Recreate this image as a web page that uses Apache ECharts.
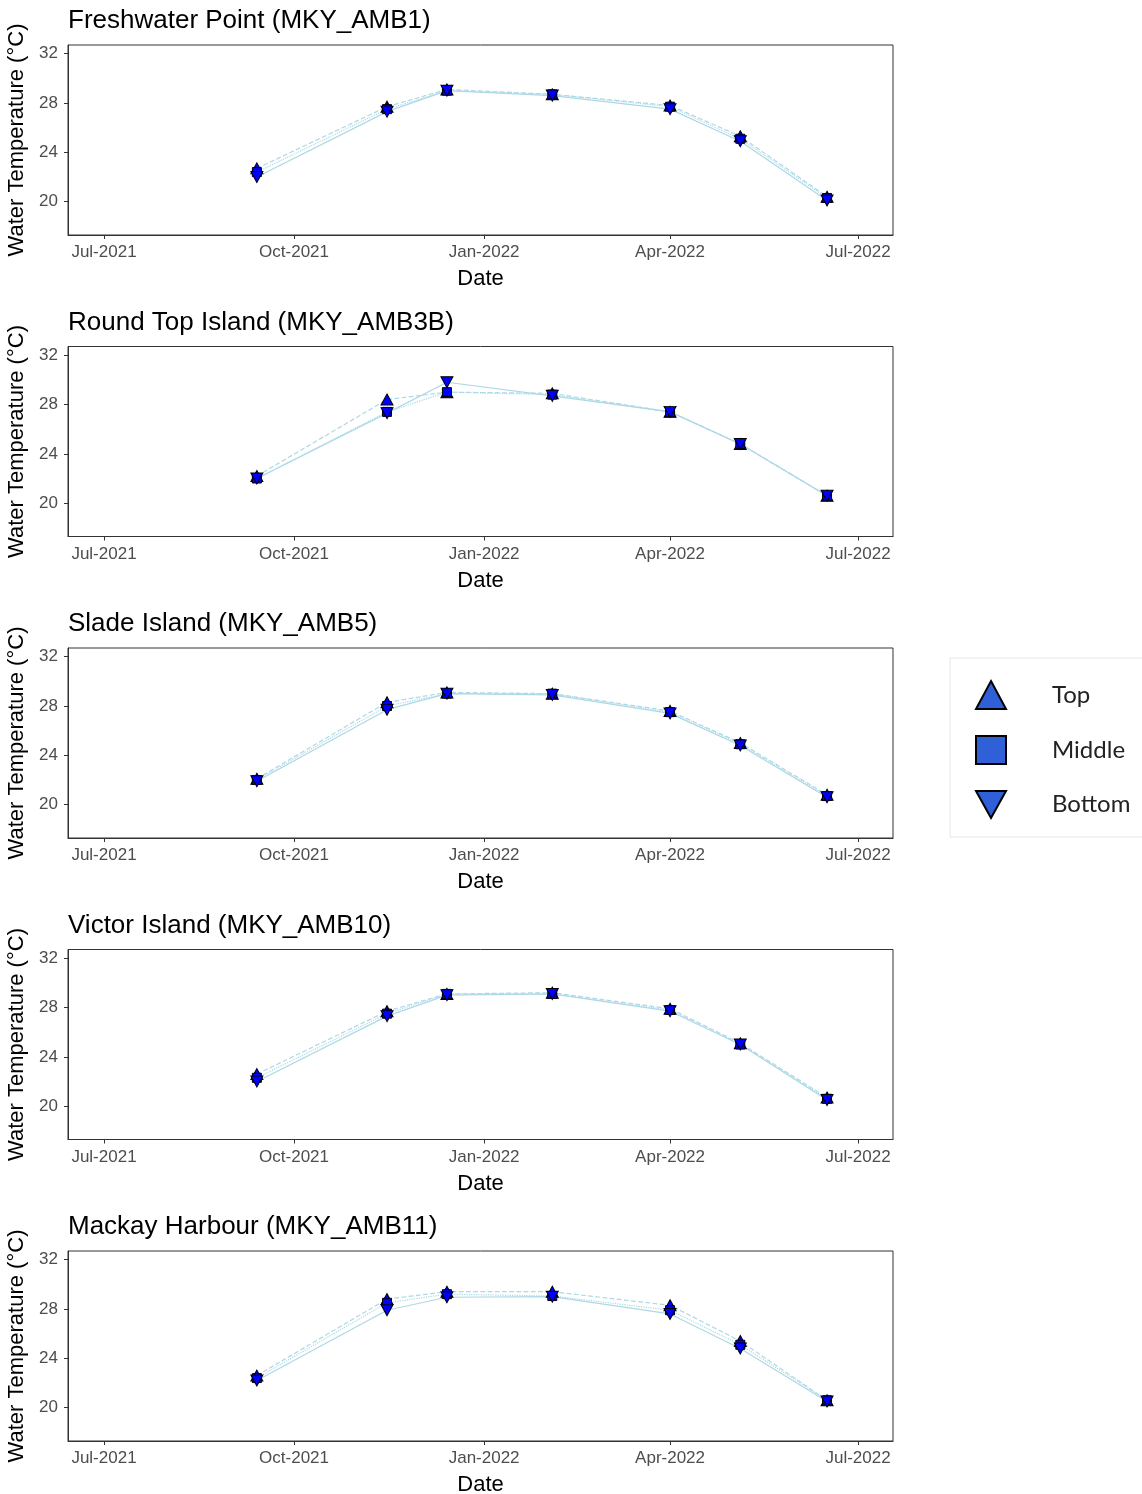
<!DOCTYPE html>
<html>
<head>
<meta charset="utf-8">
<script src="https://cdn.jsdelivr.net/npm/echarts@6/dist/echarts.min.js"></script>
<style>
html,body{margin:0;padding:0;background:#fff;}
#c{width:1142px;height:1494px;}
</style>
</head>
<body>
<div id="c"></div>
<script>
// ---- data ----
const sampleDates = ['2021-09-13','2021-11-15','2021-12-14','2022-02-03','2022-04-01','2022-05-05','2022-06-16'];
const siteTitles = ['Freshwater Point (MKY_AMB1)','Round Top Island (MKY_AMB3B)','Slade Island (MKY_AMB5)','Victor Island (MKY_AMB10)','Mackay Harbour (MKY_AMB11)'];
const depthNames = ['Top','Middle','Bottom'];
const yTicks = [20, 24, 28, 32];
const xTickDates = ['2021-07-01','2021-10-01','2022-01-01','2022-04-01','2022-07-01'];

const amb1Top    = [22.7, 27.7, 29.1, 28.7, 27.8, 25.3, 20.4];
const amb1Middle = [22.4, 27.5, 29.0, 28.7, 27.7, 25.1, 20.3];
const amb1Bottom = [22.0, 27.3, 29.0, 28.6, 27.5, 24.9, 20.1];

const amb3bTop    = [22.2, 28.4, 29.0, 28.9, 27.4, 24.8, 20.6];
const amb3bMiddle = [22.0, 27.4, 29.0, 28.8, 27.4, 24.8, 20.6];
const amb3bBottom = [22.0, 27.3, 29.8, 28.7, 27.4, 24.8, 20.6];

const amb5Top    = [22.1, 28.3, 29.1, 29.0, 27.6, 25.0, 20.8];
const amb5Middle = [22.0, 28.0, 29.0, 29.0, 27.5, 24.9, 20.7];
const amb5Bottom = [21.9, 27.7, 29.0, 28.9, 27.4, 24.8, 20.6];

const amb10Top    = [22.6, 27.7, 29.1, 29.2, 27.9, 25.1, 20.7];
const amb10Middle = [22.3, 27.5, 29.1, 29.1, 27.8, 25.0, 20.6];
const amb10Bottom = [22.0, 27.3, 29.0, 29.1, 27.7, 25.0, 20.5];

const amb11Top    = [22.6, 28.8, 29.4, 29.4, 28.3, 25.4, 20.6];
const amb11Middle = [22.4, 28.5, 29.2, 29.05, 27.9, 25.1, 20.6];
const amb11Bottom = [22.2, 27.9, 28.95, 29.0, 27.6, 24.8, 20.5];

const panels = [
  [amb1Top, amb1Middle, amb1Bottom],
  [amb3bTop, amb3bMiddle, amb3bBottom],
  [amb5Top, amb5Middle, amb5Bottom],
  [amb10Top, amb10Middle, amb10Bottom],
  [amb11Top, amb11Middle, amb11Bottom]
];

// ---- helpers ----
function ts(s){ const p = s.split('-').map(Number); return Date.UTC(p[0], p[1]-1, p[2]); }
const MONTHS = ['Jan','Feb','Mar','Apr','May','Jun','Jul','Aug','Sep','Oct','Nov','Dec'];
function fmtDate(v){ const d = new Date(v); return MONTHS[d.getUTCMonth()] + '-' + d.getUTCFullYear(); }

const xMin = Date.UTC(2021, 5, 13, 14);
const xMax = Date.UTC(2022, 6, 17, 22);
const xTicks = xTickDates.map(ts);

const lineTypes = ['dashed', 'dotted', 'solid'];
const symbols = ['triangle', 'rect', 'triangle'];
const symbolRot = [0, 0, 180];
const symbolSizes = [[12, 11], 9, [12, 11]];

const PANEL_STEP = 301.5;
const GRID_TOP = 45;
const GRID_H = 190;

const grids = [], xAxes = [], yAxes = [], series = [], titles = [];
panels.forEach((panel, i) => {
  const top = GRID_TOP + PANEL_STEP * i;
  grids.push({ left: 68, width: 825, top: top, height: GRID_H, show: true, borderColor: '#333', borderWidth: 1,
    backgroundColor: '#fff', containLabel: false, outerBoundsMode: 'none' });
  titles.push({ text: siteTitles[i], left: 63, top: top - 42,
    textStyle: { fontFamily: 'Liberation Sans', fontSize: 26, fontWeight: 'normal', color: '#000' } });
  xAxes.push({
    type: 'value', gridIndex: i, min: xMin, max: xMax, scale: true,
    name: 'Date', nameLocation: 'middle', nameGap: 33,
    nameTextStyle: { fontFamily: 'Liberation Sans', fontSize: 22, color: '#000' },
    axisLine: { show: true, onZero: false, lineStyle: { color: '#333', width: 1 } },
    axisTick: { show: true, length: 4, lineStyle: { color: '#333' }, customValues: xTicks },
    axisLabel: { show: true, customValues: xTicks, formatter: fmtDate, margin: 9,
      fontFamily: 'Liberation Sans', fontSize: 17, color: '#4d4d4d' },
    splitLine: { show: false }
  });
  yAxes.push({
    type: 'value', gridIndex: i, min: 17.3, max: 32.7,
    name: 'Water Temperature (\u00B0C)', nameLocation: 'middle', nameGap: 37, nameRotate: 90,
    nameTextStyle: { fontFamily: 'Liberation Sans', fontSize: 22, color: '#000' },
    axisLine: { show: true, onZero: false, lineStyle: { color: '#333', width: 1 } },
    axisTick: { show: true, length: 4, lineStyle: { color: '#333' }, customValues: yTicks },
    axisLabel: { show: true, customValues: yTicks, margin: 10,
      fontFamily: 'Liberation Sans', fontSize: 17, color: '#4d4d4d' },
    splitLine: { show: false }
  });
  panel.forEach((vals, k) => {
    const data = sampleDates.map((d, j) => [ts(d), vals[j]]);
    series.push({
      name: depthNames[k] + ' line', type: 'line', xAxisIndex: i, yAxisIndex: i,
      data: data, showSymbol: false, silent: true, z: 2,
      lineStyle: { color: '#add8e6', width: 1.2, type: lineTypes[k] }
    });
  });
  panel.forEach((vals, k) => {
    const data = sampleDates.map((d, j) => [ts(d), vals[j]]);
    series.push({
      name: depthNames[k], type: 'scatter', xAxisIndex: i, yAxisIndex: i,
      data: data, symbol: symbols[k], symbolRotate: symbolRot[k], symbolSize: symbolSizes[k], z: 3 + k,
      itemStyle: { color: '#0000ff', borderColor: '#000', borderWidth: 1, opacity: 1 }
    });
  });
});

const legendFill = '#3060d8';
const option = {
  animation: false,
  backgroundColor: '#fff',
  title: titles,
  grid: grids,
  xAxis: xAxes,
  yAxis: yAxes,
  legend: {
    orient: 'vertical', left: 950, top: 658,
    padding: [22, 60, 18, 25],
    itemWidth: 30, itemHeight: 28, itemGap: 25,
    borderColor: '#e6e6e6', borderWidth: 1, backgroundColor: '#fff',
    selectedMode: false,
    textStyle: { fontFamily: 'Lato', fontSize: 24, lineHeight: 28, color: '#222', padding: [0, 0, 0, 41] },
    data: [
      { name: 'Top', icon: 'triangle', itemStyle: { color: legendFill, borderColor: '#000', borderWidth: 2 } },
      { name: 'Middle', icon: 'rect', itemStyle: { color: legendFill, borderColor: '#000', borderWidth: 2 } },
      { name: 'Bottom', icon: 'path://M0,0 L20,0 L10,18 Z', itemStyle: { color: legendFill, borderColor: '#000', borderWidth: 2 } }
    ]
  },
  series: series
};

const chart = echarts.init(document.getElementById('c'), null, { renderer: 'canvas' });
chart.setOption(option);
</script>
</body>
</html>
